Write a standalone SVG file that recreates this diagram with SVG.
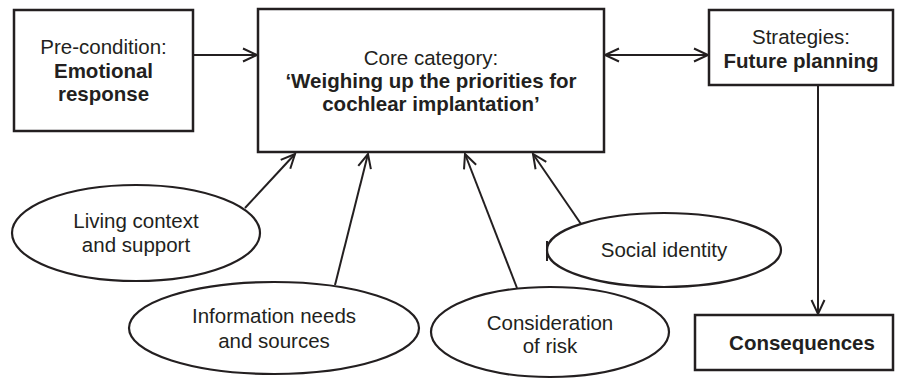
<svg xmlns="http://www.w3.org/2000/svg" width="898" height="380" viewBox="0 0 898 380">
<style>
.box{fill:#fff;stroke:#231f20;stroke-width:2.5}
.ell{fill:#fff;stroke:#231f20;stroke-width:2.2}
.con{fill:none;stroke:#231f20;stroke-width:2}
text{font-family:"Liberation Sans",Arial,sans-serif;font-size:20.5px;fill:#231f20;text-anchor:middle}
.b{font-weight:bold}
</style>
<defs>
<marker id="arr" markerUnits="userSpaceOnUse" markerWidth="20" markerHeight="20" refX="15" refY="8" orient="auto-start-reverse" overflow="visible">
<path d="M1,1.5 L15,8 L1,14.5" fill="none" stroke="#231f20" stroke-width="2"/>
</marker>
</defs>
<rect width="898" height="380" fill="#fff"/>
<g id="connectors">
<line class="con" x1="193" y1="55" x2="257" y2="55" marker-end="url(#arr)"/>
<line class="con" x1="605" y1="55" x2="708" y2="55" marker-start="url(#arr)" marker-end="url(#arr)"/>
<line class="con" x1="818" y1="85" x2="818" y2="314" marker-end="url(#arr)"/>
<line class="con" x1="245" y1="208" x2="295" y2="154" marker-end="url(#arr)"/>
<line class="con" x1="335" y1="285" x2="368" y2="154" marker-end="url(#arr)"/>
<line class="con" x1="517" y1="288" x2="465" y2="154" marker-end="url(#arr)"/>
<line class="con" x1="581" y1="224" x2="533" y2="154" marker-end="url(#arr)"/>
<line class="con" x1="547" y1="241" x2="547" y2="261"/>
</g>
<g id="precondition">
<rect class="box" x="14" y="10" width="179" height="121"/>
<text x="103.5" y="54">Pre-condition:</text>
<text class="b" x="103.5" y="78">Emotional</text>
<text class="b" x="103.5" y="101">response</text>
</g>
<g id="core">
<rect class="box" x="258" y="9" width="346" height="143"/>
<text x="431" y="65">Core category:</text>
<text class="b" x="431" y="88">‘Weighing up the priorities for</text>
<text class="b" x="431" y="111">cochlear implantation’</text>
</g>
<g id="strategies">
<rect class="box" x="709" y="10" width="184" height="75"/>
<text x="801" y="44">Strategies:</text>
<text class="b" x="801" y="68">Future planning</text>
</g>
<g id="consequences">
<rect class="box" x="695" y="315" width="198" height="55"/>
<text class="b" x="802" y="350">Consequences</text>
</g>
<g id="living">
<ellipse class="ell" cx="136" cy="233" rx="124" ry="48"/>
<text x="136" y="228">Living context</text>
<text x="136" y="252">and support</text>
</g>
<g id="information">
<ellipse class="ell" cx="274" cy="328" rx="145" ry="46"/>
<text x="274" y="323">Information needs</text>
<text x="274" y="348">and sources</text>
</g>
<g id="risk">
<ellipse class="ell" cx="550" cy="332" rx="119" ry="45"/>
<text x="550" y="330">Consideration</text>
<text x="550" y="353">of risk</text>
</g>
<g id="social">
<ellipse class="ell" cx="664" cy="250" rx="117" ry="37"/>
<text x="664" y="257">Social identity</text>
</g>
</svg>
